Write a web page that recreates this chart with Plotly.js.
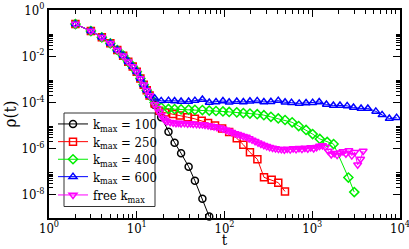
<!DOCTYPE html>
<html>
<head>
<meta charset="utf-8">
<script src="https://cdn.plot.ly/plotly-3.0.1.min.js"></script>
<style>html,body{margin:0;padding:0;background:#fff;}#chart{width:409px;height:249px;}</style>
</head>
<body>
<div id="chart"></div>
<script>
// common initial part shared by all runs
var tCommon   = [2, 3, 4, 5, 6, 7, 8, 9, 10, 11, 12, 13, 14];
var rhoCommon = [2.45e-1, 1.23e-1, 6.6e-2, 3.63e-2, 1.86e-2, 1.05e-2, 5.75e-3, 3.55e-3, 2.14e-3, 1.10e-3, 5.89e-4, 3.39e-4, 2.0e-4];

// k_max = 100
var t100   = [16, 19, 23, 27, 32, 39, 46, 56, 67];
var rho100 = [7.8e-5, 2.29e-5, 5.37e-6, 1.82e-6, 6.31e-7, 1.66e-7, 4.07e-8, 6.76e-9, 1.15e-9];

// k_max = 250
var t250   = [16, 18, 21, 26, 31, 38, 46, 55, 65, 78, 94, 113, 138, 164, 195, 237, 282, 345, 410, 489];
var rho250 = [8.91e-5, 4.37e-5, 3.63e-5, 3.16e-5, 2.75e-5, 2.29e-5, 1.95e-5, 1.62e-5, 1.29e-5, 1.0e-5,
              7.41e-6, 5.25e-6, 2.82e-6, 1.48e-6, 6.92e-7, 3.47e-7, 5.75e-8, 4.47e-8, 3.39e-8, 1.41e-8];

// k_max = 400
var t400   = [16, 19, 23, 27, 32, 39, 46, 56, 67, 80, 96, 113, 138, 164, 195, 236, 281, 338, 410, 490,
              590, 700, 850, 1010, 1220, 1480, 1750, 2580, 3010];
var rho400 = [1.0e-4, 6.03e-5, 5.25e-5, 5.13e-5, 5.01e-5, 4.90e-5, 4.79e-5, 4.68e-5, 4.47e-5, 4.27e-5,
              4.07e-5, 3.89e-5, 3.72e-5, 3.47e-5, 3.31e-5, 3.09e-5, 2.82e-5, 2.40e-5, 2.04e-5, 1.74e-5,
              1.38e-5, 9.55e-6, 6.46e-6, 4.27e-6, 2.63e-6, 1.95e-6, 1.58e-6, 5.62e-8, 1.32e-8];

// k_max = 600
var t600   = [16, 19, 23, 27, 32, 39, 46, 56, 67, 80, 96, 113, 138, 164, 195, 236, 281, 338, 410, 490,
              580, 710, 850, 1010, 1200, 1450, 1740, 2070, 2500, 2950, 3600, 4300, 5300, 6250, 7550, 9150];
var rho600 = [1.51e-4, 1.17e-4, 1.20e-4, 1.15e-4, 1.10e-4, 1.10e-4, 1.20e-4, 1.35e-4, 1.0e-4, 1.05e-4,
              1.15e-4, 1.02e-4, 1.10e-4, 1.05e-4, 1.12e-4, 1.17e-4, 1.05e-4, 1.07e-4, 1.20e-4, 1.02e-4,
              9.8e-5, 9.1e-5, 9.5e-5, 9.8e-5, 1.05e-4, 8.1e-5, 7.4e-5, 7.4e-5, 7.1e-5, 6.0e-5,
              5.5e-5, 5.5e-5, 4.1e-5, 2.9e-5, 2.0e-5, 2.2e-5];

// free k_max
var tFree   = [16, 17, 18, 19, 20, 21, 22, 24, 26, 28, 30, 32, 35, 38, 41, 44, 48, 52, 56, 60,
               65, 70, 76, 82, 89, 96, 104, 112, 121, 131, 141, 152, 164, 177, 191, 206, 223, 241, 260, 281,
               303, 327, 353, 381, 412, 445, 481, 519, 561, 606, 654, 706, 763, 824, 890, 961, 1038, 1121, 1211, 1308,
               1412, 1525, 1647, 1779, 1921, 2075, 2241, 2420, 2614, 2823, 3049, 3293, 3556, 3800];
var rhoFree = [8.32e-5, 5.62e-5, 3.98e-5, 2.82e-5, 2.09e-5, 1.74e-5, 1.51e-5, 1.38e-5, 1.32e-5, 1.26e-5,
               1.29e-5, 1.23e-5, 1.26e-5, 1.20e-5, 1.23e-5, 1.17e-5, 1.15e-5, 1.12e-5, 1.10e-5, 1.05e-5,
               1.0e-5, 9.55e-6, 9.12e-6, 8.51e-6, 7.94e-6, 7.24e-6, 6.46e-6, 5.75e-6, 5.13e-6, 4.57e-6,
               4.17e-6, 3.80e-6, 3.47e-6, 3.16e-6, 2.75e-6, 2.40e-6, 2.09e-6, 1.82e-6, 1.58e-6, 1.41e-6,
               1.26e-6, 1.15e-6, 1.07e-6, 1.02e-6, 9.55e-7, 9.33e-7, 8.91e-7, 9.77e-7, 9.12e-7, 1.02e-6,
               9.33e-7, 1.05e-6, 9.55e-7, 1.07e-6, 1.0e-6, 1.12e-6, 1.02e-6, 1.15e-6, 1.29e-6, 1.38e-6,
               1.17e-6, 7.94e-7, 5.62e-7, 6.31e-7, 5.25e-7, 6.61e-7, 7.59e-7, 6.03e-7, 8.32e-7, 5.01e-7,
               7.08e-7, 2.0e-7, 3.55e-7, 7.94e-7];

var seriesNames = ['k<sub>max</sub> = 100', 'k<sub>max</sub> = 250', 'k<sub>max</sub> = 400', 'k<sub>max</sub> = 600', 'free k<sub>max</sub>'];
var xTickVals = [1, 10, 100, 1000, 10000];
var xTickText = ['10<sup>0</sup>', '10<sup>1</sup>', '10<sup>2</sup>', '10<sup>3</sup>', '10<sup>4</sup>'];
var yTickVals = [1, 1e-2, 1e-4, 1e-6, 1e-8];
var yTickText = ['10<sup>0</sup>', '10<sup>-2</sup>', '10<sup>-4</sup>', '10<sup>-6</sup>', '10<sup>-8</sup>'];

var xMinor = [];
for (var d = 0; d < 4; d++) for (var k = 2; k <= 9; k++) xMinor.push(k * Math.pow(10, d));
var yMinor = [];
[-8, -6, -4, -2].forEach(function (e) { for (var k = 2; k <= 9; k++) yMinor.push(k * Math.pow(10, e)); });

var SERIF = "'DejaVu Serif Condensed', 'DejaVu Serif', serif";
var legendIds = ['legend', 'legend2', 'legend3', 'legend4', 'legend5'];

function mk(x, y, i, color, symbol) {
  return {
    x: tCommon.concat(x), y: rhoCommon.concat(y), name: seriesNames[i], type: 'scatter', mode: 'lines+markers',
    cliponaxis: false, legend: legendIds[i],
    line: {color: color, width: 1},
    marker: {symbol: symbol, size: 7, color: color, line: {color: color, width: 1.5}}
  };
}

var data = [
  mk(t100, rho100, 0, '#000000', 'circle-open'),
  mk(t250, rho250, 1, '#ff0000', 'square-open'),
  mk(t400, rho400, 2, '#00ee00', 'diamond-open'),
  mk(t600, rho600, 3, '#0000ff', 'triangle-up-open'),
  mk(tFree, rhoFree, 4, '#ff00ff', 'triangle-down-open')
];

// plot area in px: x 49..400, y 10..218
function px2paperX(px) { return (px - 49) / 351; }
function px2paperY(py) { return (218 - py) / 208; }
var entryY = [124, 141.7, 159.3, 176.7, 195];

var layout = {
  width: 409, height: 249,
  margin: {l: 49, r: 9, t: 10, b: 31},
  paper_bgcolor: '#fff', plot_bgcolor: '#fff',
  font: {family: SERIF, size: 14, color: '#000'},
  showlegend: true,
  shapes: [{
    type: 'rect', xref: 'paper', yref: 'paper', layer: 'above',
    x0: px2paperX(64), x1: px2paperX(155), y0: px2paperY(206.5), y1: px2paperY(113),
    fillcolor: '#fff', line: {color: '#333', width: 1}
  }],
  xaxis: {
    type: 'log', range: [0, 4],
    showline: true, linecolor: '#000', linewidth: 2, mirror: 'allticks',
    ticks: 'inside', ticklen: 7, tickwidth: 1, tickcolor: '#000',
    tickmode: 'array', tickvals: xTickVals, ticktext: xTickText,
    tickfont: {family: SERIF, size: 13}, ticklabeloverflow: 'allow', ticklabelstandoff: -3,
    minor: {tickmode: 'array', tickvals: xMinor, ticks: 'inside', ticklen: 4, tickcolor: '#000', tickwidth: 1, showgrid: false},
    showgrid: false, zeroline: false,
    title: {text: 't', font: {family: SERIF, size: 15}, standoff: 8}
  },
  yaxis: {
    type: 'log', range: [-9, 0],
    showline: true, linecolor: '#000', linewidth: 2, mirror: 'allticks',
    ticks: 'inside', ticklen: 7, tickwidth: 1, tickcolor: '#000',
    tickmode: 'array', tickvals: yTickVals, ticktext: yTickText,
    tickfont: {family: SERIF, size: 13},
    minor: {tickmode: 'array', tickvals: yMinor, ticks: 'inside', ticklen: 4, tickcolor: '#000', tickwidth: 1, showgrid: false},
    showgrid: false, zeroline: false,
    title: {text: 'ρ(t)', font: {family: SERIF, size: 17}, standoff: 4}
  }
};
legendIds.forEach(function (id, i) {
  layout[id] = {
    x: px2paperX(53), y: px2paperY(entryY[i]), xanchor: 'left', yanchor: 'middle',
    bgcolor: 'rgba(0,0,0,0)', borderwidth: 0, itemwidth: 30,
    font: {family: SERIF, size: 13, color: '#000'}
  };
});

Plotly.newPlot('chart', data, layout, {staticPlot: true, displayModeBar: false});
</script>
</body>
</html>
